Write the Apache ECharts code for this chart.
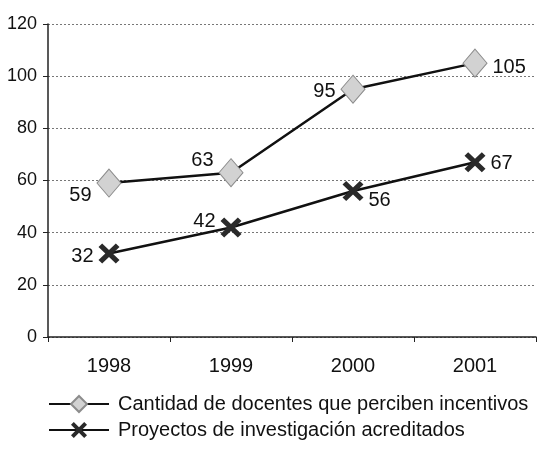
<!DOCTYPE html>
<html>
<head>
<meta charset="utf-8">
<script src="https://cdn.jsdelivr.net/npm/echarts@6/dist/echarts.min.js"></script>
<style>
  html, body { margin: 0; padding: 0; background: #fff; }
  #chart { width: 539px; height: 458px; }
</style>
</head>
<body>
<div id="chart"></div>
<script>
// Years on the horizontal axis
const years = ['1998', '1999', '2000', '2001'];
// Teachers receiving incentives
const docentes = [59, 63, 95, 105];
// Accredited research projects
const proyectos = [32, 42, 56, 67];
// Series names
const seriesNames = ['Cantidad de docentes que perciben incentivos', 'Proyectos de investigación acreditados'];

// Label placement for each point (position, offset)
const docLabelPos = [['left', [0, 12]], ['left', [0, -12]], ['left', [0, 2]], ['right', [0, 4]]];
const proLabelPos = [['left', [0, 3]], ['left', [0, -6]], ['right', [0, 10]], ['right', [0, 1]]];

const FONT = '"Liberation Sans", Arial, sans-serif';
const crossPath = 'path://M3.5,0 L10,6.5 L16.5,0 L20,3.5 L13.5,10 L20,16.5 L16.5,20 L10,13.5 L3.5,20 L0,16.5 L6.5,10 L0,3.5 Z';

function withLabels(values, pos) {
  return values.map((v, i) => ({
    value: v,
    label: { position: pos[i][0], offset: pos[i][1] }
  }));
}

const chart = echarts.init(document.getElementById('chart'));
chart.setOption({
  animation: false,
  grid: { left: 48, right: 3, top: 24, bottom: 121 },
  xAxis: {
    type: 'category',
    data: years,
    boundaryGap: true,
    axisLine: { lineStyle: { color: '#222', width: 1.5 } },
    axisTick: { show: true, length: 5, lineStyle: { color: '#222' } },
    axisLabel: { color: '#111', fontFamily: FONT, fontSize: 20, margin: 19 }
  },
  yAxis: {
    type: 'value',
    min: 0, max: 120, interval: 20,
    axisLine: { show: true, lineStyle: { color: '#222', width: 1.5 } },
    axisTick: { show: true, length: 5, lineStyle: { color: '#222' } },
    axisLabel: { color: '#111', fontFamily: FONT, fontSize: 18, margin: 11 },
    splitLine: { lineStyle: { color: '#777', type: [2, 2], width: 1 } }
  },
  legend: {
    orient: 'vertical',
    left: 43, top: 389,
    itemWidth: 60, itemHeight: 20,
    itemGap: 6,
    textStyle: { color: '#111', fontFamily: FONT, fontSize: 20, padding: [0, 0, 0, 4] },
    data: seriesNames
  },
  series: [
    {
      name: seriesNames[0],
      type: 'line',
      data: withLabels(docentes, docLabelPos),
      symbol: 'diamond',
      symbolSize: [24, 28],
      lineStyle: { color: '#111', width: 2.5 },
      itemStyle: { color: '#d2d2d2', borderColor: '#8c8c8c', borderWidth: 1 },
      label: { show: true, color: '#111', fontFamily: FONT, fontSize: 20, distance: 5 },
      z: 3
    },
    {
      name: seriesNames[1],
      type: 'line',
      data: withLabels(proyectos, proLabelPos),
      symbol: crossPath,
      symbolSize: [21, 20],
      lineStyle: { color: '#111', width: 2.5 },
      itemStyle: { color: '#2a2a2a' },
      label: { show: true, color: '#111', fontFamily: FONT, fontSize: 20, distance: 5 },
      z: 3
    }
  ]
});
</script>
</body>
</html>
